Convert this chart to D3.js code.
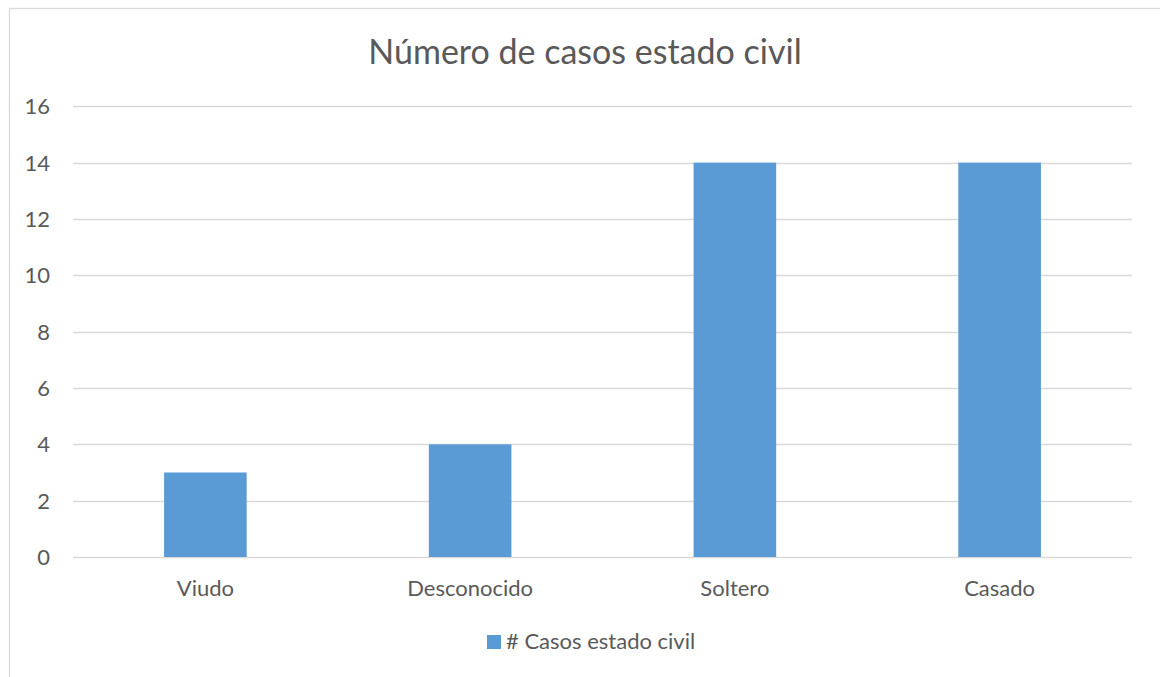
<!DOCTYPE html>
<html>
<head>
<meta charset="utf-8">
<script src="https://cdn.jsdelivr.net/npm/d3@7"></script>
<style>
  body { margin: 0; background: #fff; }
  text { font-family: Lato, "Open Sans", sans-serif; fill: #595959; }
</style>
</head>
<body>
<div id="chart"></div>
<script>
const width = 1160;
const height = 677;

// data
const categories = ["Viudo", "Desconocido", "Soltero", "Casado"];
const values = [3, 4, 14, 14];
const yTicks = [0, 2, 4, 6, 8, 10, 12, 14, 16];
const title = "Número de casos estado civil";
const seriesName = "# Casos estado civil";

const plot = { left: 73, right: 1132, top: 106.3, bottom: 557 };

const svg = d3.select("#chart").append("svg")
    .attr("width", width)
    .attr("height", height);

svg.append("rect").attr("width", width).attr("height", height).attr("fill", "#fff");

// chart frame (cut off on right and bottom, like the screenshot)
svg.append("rect")
    .attr("x", 9.5).attr("y", 8.5)
    .attr("width", width + 20).attr("height", height + 20)
    .attr("fill", "none")
    .attr("stroke", "#d9d9d9")
    .attr("stroke-width", 1.3);

const x = d3.scaleBand()
    .domain(categories)
    .range([plot.left, plot.right])
    .paddingInner(0.688)
    .paddingOuter(0.344);

const y = d3.scaleLinear()
    .domain([0, 16])
    .range([plot.bottom, plot.top]);

// gridlines
svg.append("g").selectAll("line").data(yTicks).enter()
    .append("line")
    .attr("x1", plot.left)
    .attr("x2", plot.right)
    .attr("y1", d => Math.round(y(d)) + 0.5)
    .attr("y2", d => Math.round(y(d)) + 0.5)
    .attr("stroke", "#d9d9d9")
    .attr("stroke-width", 1.3);

// y labels
svg.append("g").selectAll("text").data(yTicks).enter()
    .append("text")
    .attr("x", 50)
    .attr("y", d => y(d))
    .attr("dy", "0.36em")
    .attr("text-anchor", "end")
    .style("font-size", "22px")
    .text(d => d);

// bars
svg.append("g").selectAll("rect").data(values).enter()
    .append("rect")
    .attr("x", (d, i) => x(categories[i]))
    .attr("y", d => y(d))
    .attr("width", x.bandwidth())
    .attr("height", d => y(0) - y(d))
    .attr("fill", "#5b9bd5");

// x labels
svg.append("g").selectAll("text").data(categories).enter()
    .append("text")
    .attr("x", d => x(d) + x.bandwidth() / 2)
    .attr("y", 596)
    .attr("text-anchor", "middle")
    .style("font-size", "22px")
    .text(d => d);

// title
svg.append("text")
    .attr("x", 585)
    .attr("y", 64)
    .attr("text-anchor", "middle")
    .style("font-size", "34px")
    .text(title);

// legend
const legend = svg.append("g");
legend.append("rect")
    .attr("x", 487).attr("y", 635)
    .attr("width", 14).attr("height", 14)
    .attr("fill", "#5b9bd5");
legend.append("text")
    .attr("x", 506)
    .attr("y", 649)
    .style("font-size", "22px")
    .text(seriesName);
</script>
</body>
</html>
